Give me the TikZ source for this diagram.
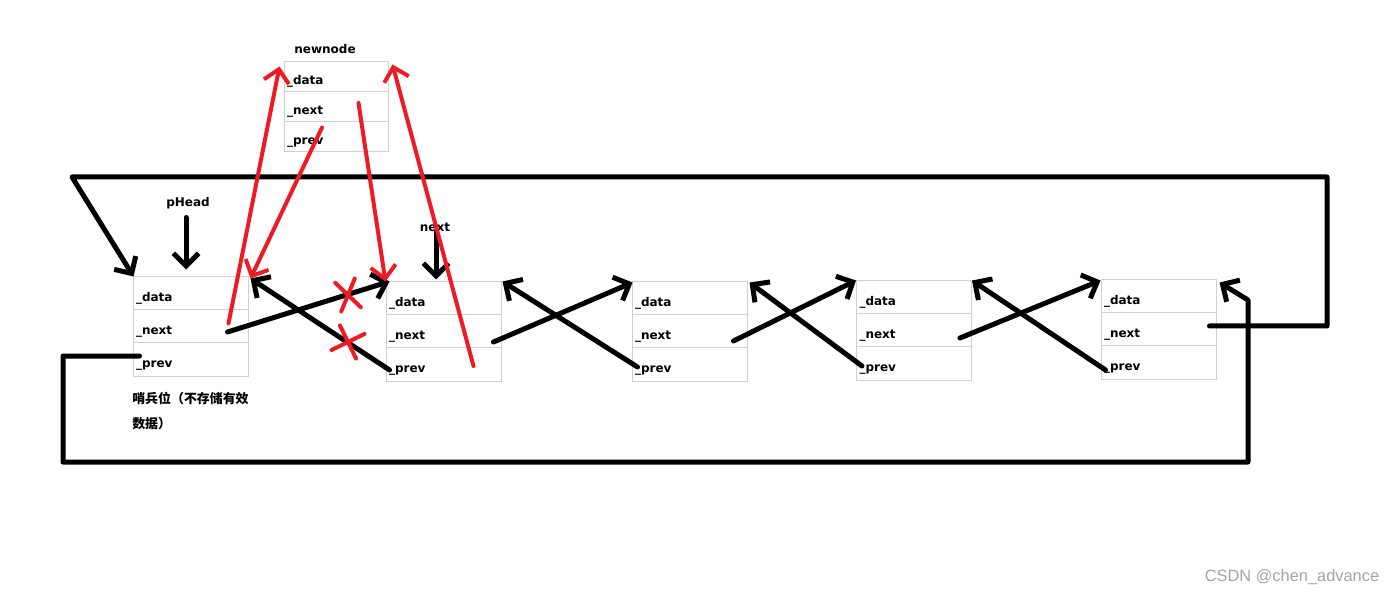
\documentclass[tikz,border=0pt]{standalone}
\usepackage{fontspec}
\setmainfont{DejaVu Sans}
\newfontfamily\cjk{Noto Sans CJK SC}
\newfontfamily\markfont{Liberation Sans}
\usetikzlibrary{arrows.meta,shapes.misc}

\definecolor{paintred}{RGB}{237,28,36}
\definecolor{cellgray}{RGB}{208,208,208}
\definecolor{markgray}{RGB}{165,165,165}

\begin{document}
\begin{tikzpicture}[
x=0.75pt, y=-0.75pt,
node distance=24.75pt,
every node/.style={
font=\bfseries\fontsize{9}{11}\selectfont
},
link/.style={-{Straight Barb[length=9.5pt,width=19pt]}, line width=3.75pt, line cap=round, line join=round},
relink/.style={link, draw=paintred, line width=3pt}
]
\useasboundingbox (0,0) rectangle (1396,595);

% =====================================================
% Styles
% =====================================================

\tikzstyle{cell} =
[rectangle,
draw=cellgray,
line width=0.75pt,
minimum height=24.75pt,
text width=81.75pt,
inner xsep=2.25pt,
text height=12pt, text depth=0pt,
align=left]

\tikzstyle{newcell} =
[cell,
node distance=22.5pt,
minimum height=22.5pt,
text width=73.5pt]

\tikzstyle{cutmark} =
[cross out,
draw=paintred,
line width=3pt,
line cap=round,
inner sep=0pt]

% =====================================================
% Nodes
% =====================================================

% sentinel
\node (s-data) [cell] at (190.5,293.5) {\_data};
\node (s-next) [cell, below of=s-data] {\_next};
\node (s-prev) [cell, below of=s-next] {\_prev};

% list nodes
\node (n2-data) [cell] at (443.5,298.5) {\_data};
\node (n2-next) [cell, below of=n2-data] {\_next};
\node (n2-prev) [cell, below of=n2-next] {\_prev};

\node (n3-data) [cell] at (689.5,298.5) {\_data};
\node (n3-next) [cell, below of=n3-data] {\_next};
\node (n3-prev) [cell, below of=n3-next] {\_prev};

\node (n4-data) [cell] at (914,297.5) {\_data};
\node (n4-next) [cell, below of=n4-data] {\_next};
\node (n4-prev) [cell, below of=n4-next] {\_prev};

\node (n5-data) [cell] at (1158.5,296.5) {\_data};
\node (n5-next) [cell, below of=n5-data] {\_next};
\node (n5-prev) [cell, below of=n5-next] {\_prev};

% inserted node
\node (nn-data) [newcell] at (336,77) {\_data};
\node (nn-next) [newcell, below of=nn-data] {\_next};
\node (nn-prev) [newcell, below of=nn-next] {\_prev};

% labels
\node (newlabel) at (325,49) {newnode};
\node (headptr) at (188,203) {pHead};
\node (nextptr) at (435,227) {next};

\node (sentinel-note) [font=\cjk\bfseries\fontsize{9.7}{18.75}\selectfont,
align=left, anchor=north west, inner sep=0pt] at (132,392)
{哨兵位（不存储有效\\数据）};

\node (mark) [font=\markfont\fontsize{12.3}{14}\selectfont, text=markgray]
at (1292,577) {CSDN @chen\_advance};

\coordinate (topleft) at (72,177);
\coordinate (topright) at (1327,177);
\coordinate (botleft) at (63,462);
\coordinate (botright) at (1248,462);

% =====================================================
% Arrows
% =====================================================

\draw [link] ([shift={(-2,4)}]headptr.south) -- ([shift={(-4.5,-7)}]s-data.north);

\draw [link] ([shift={(1,5)}]nextptr.center) -- ([shift={(-7.5,-2)}]n2-data.north);

\draw [link] ([shift={(-7,-3.5)}]n5-next.east) -| (topright) -- (topleft) -- ([shift={(1,0)}]s-data.north west);

\draw [link] ([shift={(7,-3.5)}]s-prev.west) -| (botleft) -- (botright) -- ++(0,-162) -- ([shift={(3,3)}]n5-data.north east);

\draw [link] ([shift={(-21,5.5)}]s-next.east) -- ([shift={(4,0)}]n2-data.north west);

\draw [link] ([shift={(4,5.5)}]n2-prev.west) -- ([shift={(2,2)}]s-data.north east);

\draw [link] ([shift={(-8,10.5)}]n2-next.east) -- ([shift={(1,1)}]n3-data.north west);

\draw [link] ([shift={(6,2.5)}]n3-prev.west) -- ([shift={(1,0)}]n2-data.north east);

\draw [link] ([shift={(-14,9.5)}]n3-next.east) -- (n4-data.north west);

\draw [link] ([shift={(6,2.5)}]n4-prev.west) -- ([shift={(2,1)}]n3-data.north east);

\draw [link] ([shift={(-12,7.5)}]n4-next.east) -- ([shift={(0,1)}]n5-data.north west);

\draw [link] ([shift={(5,7.5)}]n5-prev.west) -- (n4-data.north east);

% new links
\draw [relink] ([shift={(-20,-3)}]s-next.east) -- ([shift={(-4,5)}]nn-data.north west);

\draw [relink] ([shift={(-14,6)}]nn-prev.north) -- ([shift={(2,2)}]s-data.north east);

\draw [relink] ([shift={(-30,-4)}]nn-next.east) -- (n2-data.north west);

\draw [relink] ([shift={(-28,1.5)}]n2-prev.east) -- ([shift={(4,3)}]nn-data.north east);

% broken links
\node (cut1) [cutmark, minimum width=12pt, minimum height=19pt, rotate=12] at (348,295) {};
\node (cut2) [cutmark, minimum size=16.5pt, rotate=-19] at (348,342) {};

\end{tikzpicture}
\end{document}
